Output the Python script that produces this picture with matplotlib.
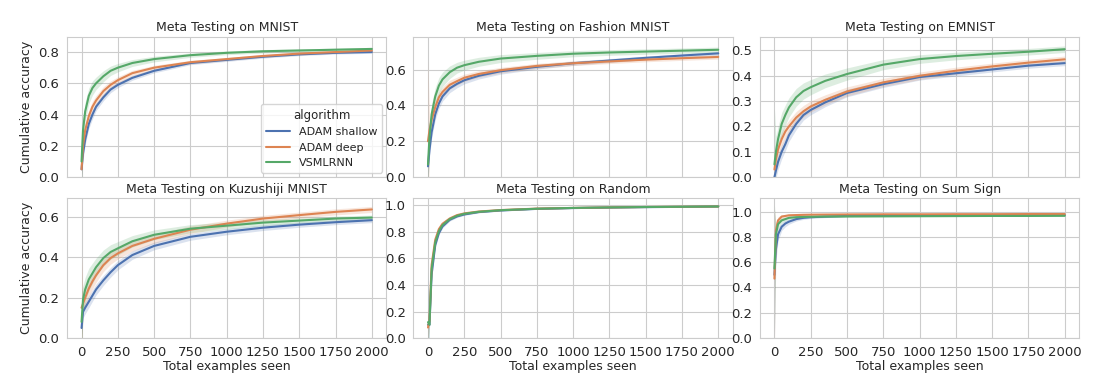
import numpy as np
import matplotlib
matplotlib.use("Agg")
import matplotlib.pyplot as plt
import seaborn as sns

sns.set_style("whitegrid")
plt.rcParams['font.family'] = ['DejaVu Sans']

# x positions (total examples seen)
steps = [0, 10, 25, 50, 75, 100, 150, 200, 250, 350, 500, 750, 1000, 1250, 1500, 1750, 2000]

algorithms = ["ADAM shallow", "ADAM deep", "VSMLRNN"]
colors = ["#4C72B0", "#DD8452", "#55A868"]

titles = ["Meta Testing on MNIST", "Meta Testing on Fashion MNIST", "Meta Testing on EMNIST",
          "Meta Testing on Kuzushiji MNIST", "Meta Testing on Random", "Meta Testing on Sum Sign"]

# MNIST
mnist_shallow = [0.05, 0.15, 0.24, 0.34, 0.40, 0.45, 0.51, 0.56, 0.59, 0.635, 0.68, 0.73, 0.75, 0.77, 0.785, 0.795, 0.80]
mnist_deep = [0.05, 0.20, 0.30, 0.39, 0.45, 0.49, 0.55, 0.59, 0.62, 0.665, 0.70, 0.735, 0.755, 0.775, 0.79, 0.80, 0.81]
mnist_vsml = [0.10, 0.30, 0.42, 0.52, 0.57, 0.60, 0.645, 0.68, 0.70, 0.73, 0.755, 0.78, 0.795, 0.805, 0.81, 0.815, 0.82]
mnist_shallow_ci = [0.06, 0.04, 0.035, 0.03, 0.028, 0.025, 0.022, 0.02, 0.018, 0.015, 0.013, 0.011, 0.01, 0.009, 0.008, 0.008, 0.008]
mnist_deep_ci = [0.06, 0.05, 0.045, 0.04, 0.035, 0.032, 0.028, 0.025, 0.022, 0.018, 0.015, 0.012, 0.01, 0.009, 0.009, 0.008, 0.008]
mnist_vsml_ci = [0.15, 0.07, 0.06, 0.05, 0.045, 0.04, 0.035, 0.03, 0.027, 0.022, 0.018, 0.014, 0.012, 0.011, 0.01, 0.01, 0.01]

# Fashion MNIST
fashion_shallow = [0.06, 0.15, 0.25, 0.35, 0.41, 0.45, 0.495, 0.52, 0.54, 0.565, 0.59, 0.615, 0.635, 0.65, 0.665, 0.678, 0.69]
fashion_deep = [0.20, 0.26, 0.32, 0.39, 0.445, 0.475, 0.515, 0.535, 0.554, 0.575, 0.596, 0.62, 0.635, 0.645, 0.655, 0.663, 0.67]
fashion_vsml = [0.07, 0.22, 0.35, 0.45, 0.51, 0.545, 0.585, 0.61, 0.624, 0.643, 0.661, 0.676, 0.688, 0.695, 0.70, 0.705, 0.71]
fashion_shallow_ci = [0.08, 0.04, 0.035, 0.03, 0.028, 0.026, 0.024, 0.022, 0.02, 0.018, 0.016, 0.013, 0.012, 0.011, 0.01, 0.01, 0.01]
fashion_deep_ci = [0.45, 0.05, 0.04, 0.035, 0.03, 0.028, 0.025, 0.022, 0.02, 0.018, 0.016, 0.014, 0.013, 0.012, 0.012, 0.012, 0.012]
fashion_vsml_ci = [0.12, 0.07, 0.06, 0.05, 0.045, 0.04, 0.035, 0.03, 0.028, 0.025, 0.022, 0.019, 0.017, 0.016, 0.015, 0.015, 0.015]

# EMNIST
emnist_shallow = [0.0, 0.025, 0.06, 0.10, 0.13, 0.165, 0.21, 0.245, 0.265, 0.295, 0.332, 0.367, 0.395, 0.41, 0.425, 0.44, 0.45]
emnist_deep = [0.03, 0.07, 0.11, 0.15, 0.18, 0.20, 0.235, 0.26, 0.279, 0.305, 0.338, 0.374, 0.40, 0.42, 0.437, 0.452, 0.465]
emnist_vsml = [0.05, 0.10, 0.15, 0.21, 0.245, 0.275, 0.315, 0.34, 0.355, 0.38, 0.407, 0.444, 0.466, 0.478, 0.487, 0.495, 0.505]
emnist_shallow_ci = [0.02, 0.03, 0.03, 0.028, 0.026, 0.024, 0.022, 0.02, 0.019, 0.017, 0.015, 0.013, 0.012, 0.011, 0.01, 0.01, 0.01]
emnist_deep_ci = [0.03, 0.03, 0.03, 0.028, 0.026, 0.025, 0.024, 0.023, 0.022, 0.02, 0.018, 0.016, 0.015, 0.014, 0.013, 0.013, 0.013]
emnist_vsml_ci = [0.22, 0.06, 0.05, 0.045, 0.04, 0.038, 0.035, 0.032, 0.03, 0.027, 0.024, 0.02, 0.017, 0.015, 0.014, 0.013, 0.013]

# Kuzushiji MNIST
kmnist_shallow = [0.05, 0.13, 0.15, 0.18, 0.21, 0.24, 0.285, 0.325, 0.36, 0.41, 0.455, 0.50, 0.525, 0.545, 0.56, 0.572, 0.582]
kmnist_deep = [0.15, 0.17, 0.20, 0.245, 0.28, 0.31, 0.36, 0.395, 0.418, 0.455, 0.49, 0.535, 0.565, 0.59, 0.607, 0.623, 0.635]
kmnist_vsml = [0.08, 0.19, 0.24, 0.29, 0.32, 0.35, 0.395, 0.425, 0.443, 0.478, 0.51, 0.54, 0.555, 0.57, 0.58, 0.59, 0.595]
kmnist_shallow_ci = [0.05, 0.03, 0.03, 0.03, 0.028, 0.027, 0.025, 0.024, 0.023, 0.021, 0.019, 0.017, 0.015, 0.014, 0.013, 0.012, 0.012]
kmnist_deep_ci = [0.26, 0.05, 0.045, 0.04, 0.038, 0.035, 0.032, 0.03, 0.028, 0.025, 0.022, 0.019, 0.017, 0.016, 0.015, 0.015, 0.015]
kmnist_vsml_ci = [0.15, 0.07, 0.06, 0.055, 0.05, 0.045, 0.04, 0.036, 0.033, 0.028, 0.024, 0.02, 0.017, 0.015, 0.013, 0.012, 0.012]

# Random
random_shallow = [0.10, 0.10, 0.48, 0.70, 0.79, 0.84, 0.89, 0.915, 0.93, 0.948, 0.96, 0.972, 0.978, 0.982, 0.985, 0.987, 0.99]
random_deep = [0.08, 0.13, 0.55, 0.74, 0.82, 0.86, 0.90, 0.925, 0.938, 0.952, 0.963, 0.974, 0.979, 0.983, 0.986, 0.988, 0.99]
random_vsml = [0.12, 0.10, 0.52, 0.72, 0.805, 0.85, 0.895, 0.92, 0.935, 0.95, 0.962, 0.973, 0.979, 0.983, 0.986, 0.988, 0.99]
random_shallow_ci = [0.40, 0.03, 0.04, 0.02, 0.015, 0.012, 0.01, 0.008, 0.007, 0.006, 0.005, 0.004, 0.003, 0.003, 0.003, 0.003, 0.003]
random_deep_ci = [0.10, 0.03, 0.04, 0.02, 0.015, 0.012, 0.01, 0.008, 0.007, 0.006, 0.005, 0.004, 0.003, 0.003, 0.003, 0.003, 0.003]
random_vsml_ci = [0.25, 0.03, 0.04, 0.02, 0.015, 0.012, 0.01, 0.008, 0.007, 0.006, 0.005, 0.004, 0.003, 0.003, 0.003, 0.003, 0.003]

# Sum Sign
sumsign_shallow = [0.50, 0.70, 0.82, 0.88, 0.905, 0.92, 0.94, 0.95, 0.955, 0.96, 0.965, 0.968, 0.97, 0.971, 0.972, 0.973, 0.973]
sumsign_deep = [0.47, 0.85, 0.93, 0.96, 0.965, 0.97, 0.972, 0.974, 0.975, 0.976, 0.977, 0.978, 0.978, 0.979, 0.979, 0.98, 0.98]
sumsign_vsml = [0.55, 0.82, 0.90, 0.93, 0.94, 0.95, 0.955, 0.957, 0.958, 0.96, 0.961, 0.962, 0.963, 0.964, 0.965, 0.965, 0.966]
sumsign_shallow_ci = [0.50, 0.10, 0.05, 0.03, 0.025, 0.02, 0.015, 0.012, 0.01, 0.008, 0.006, 0.005, 0.005, 0.004, 0.004, 0.004, 0.004]
sumsign_deep_ci = [0.55, 0.06, 0.03, 0.015, 0.012, 0.01, 0.008, 0.007, 0.006, 0.005, 0.005, 0.004, 0.004, 0.004, 0.004, 0.004, 0.004]
sumsign_vsml_ci = [0.50, 0.08, 0.04, 0.02, 0.015, 0.012, 0.01, 0.008, 0.007, 0.006, 0.005, 0.004, 0.004, 0.004, 0.004, 0.004, 0.004]

panels = [
    ([mnist_shallow, mnist_deep, mnist_vsml], [mnist_shallow_ci, mnist_deep_ci, mnist_vsml_ci]),
    ([fashion_shallow, fashion_deep, fashion_vsml], [fashion_shallow_ci, fashion_deep_ci, fashion_vsml_ci]),
    ([emnist_shallow, emnist_deep, emnist_vsml], [emnist_shallow_ci, emnist_deep_ci, emnist_vsml_ci]),
    ([kmnist_shallow, kmnist_deep, kmnist_vsml], [kmnist_shallow_ci, kmnist_deep_ci, kmnist_vsml_ci]),
    ([random_shallow, random_deep, random_vsml], [random_shallow_ci, random_deep_ci, random_vsml_ci]),
    ([sumsign_shallow, sumsign_deep, sumsign_vsml], [sumsign_shallow_ci, sumsign_deep_ci, sumsign_vsml_ci]),
]

ylims = [0.896, 0.781, 0.553, 0.691, 1.053, 1.106]
yticks = [np.arange(0, 0.81, 0.2), np.arange(0, 0.61, 0.2), np.arange(0, 0.51, 0.1),
          np.arange(0, 0.61, 0.2), np.arange(0, 1.01, 0.2), np.arange(0, 1.01, 0.2)]

fig, axes = plt.subplots(2, 3, figsize=(10.99, 3.9), dpi=100, sharex=True)
fig.subplots_adjust(left=0.061, right=0.982, top=0.905, bottom=0.133, wspace=0.085, hspace=0.15)

x = np.array(steps)
for i, ax in enumerate(axes.flat):
    means, cis = panels[i]
    for name, col, m, ci in zip(algorithms, colors, means, cis):
        m = np.array(m)
        ci = np.array(ci)
        ax.fill_between(x, m - ci, m + ci, color=col, alpha=0.2, linewidth=0)
        ax.plot(x, m, color=col, linewidth=1.5, label=name)
    ax.set_title(titles[i], fontsize=9, color=".15", pad=4)
    ax.set_ylim(0, ylims[i])
    ax.set_yticks(yticks[i])
    ax.set_yticklabels(["%.1f" % v for v in yticks[i]])
    ax.set_xlim(-100, 2100)
    ax.set_xticks(np.arange(0, 2001, 250))
    ax.tick_params(labelsize=9.5, colors=".15", pad=2)
    if i % 3 == 0:
        ax.set_ylabel("Cumulative accuracy", fontsize=9, color=".15")
    if i >= 3:
        ax.set_xlabel("Total examples seen", fontsize=9, color=".15", labelpad=1)

leg = axes[0, 0].legend(title="algorithm", loc="lower right", fontsize=8, title_fontsize=8.5,
                        handlelength=2.2, borderaxespad=0.4)
for t in leg.get_texts():
    t.set_color(".15")
leg.get_title().set_color(".15")

fig.savefig("out.png", dpi=100)
